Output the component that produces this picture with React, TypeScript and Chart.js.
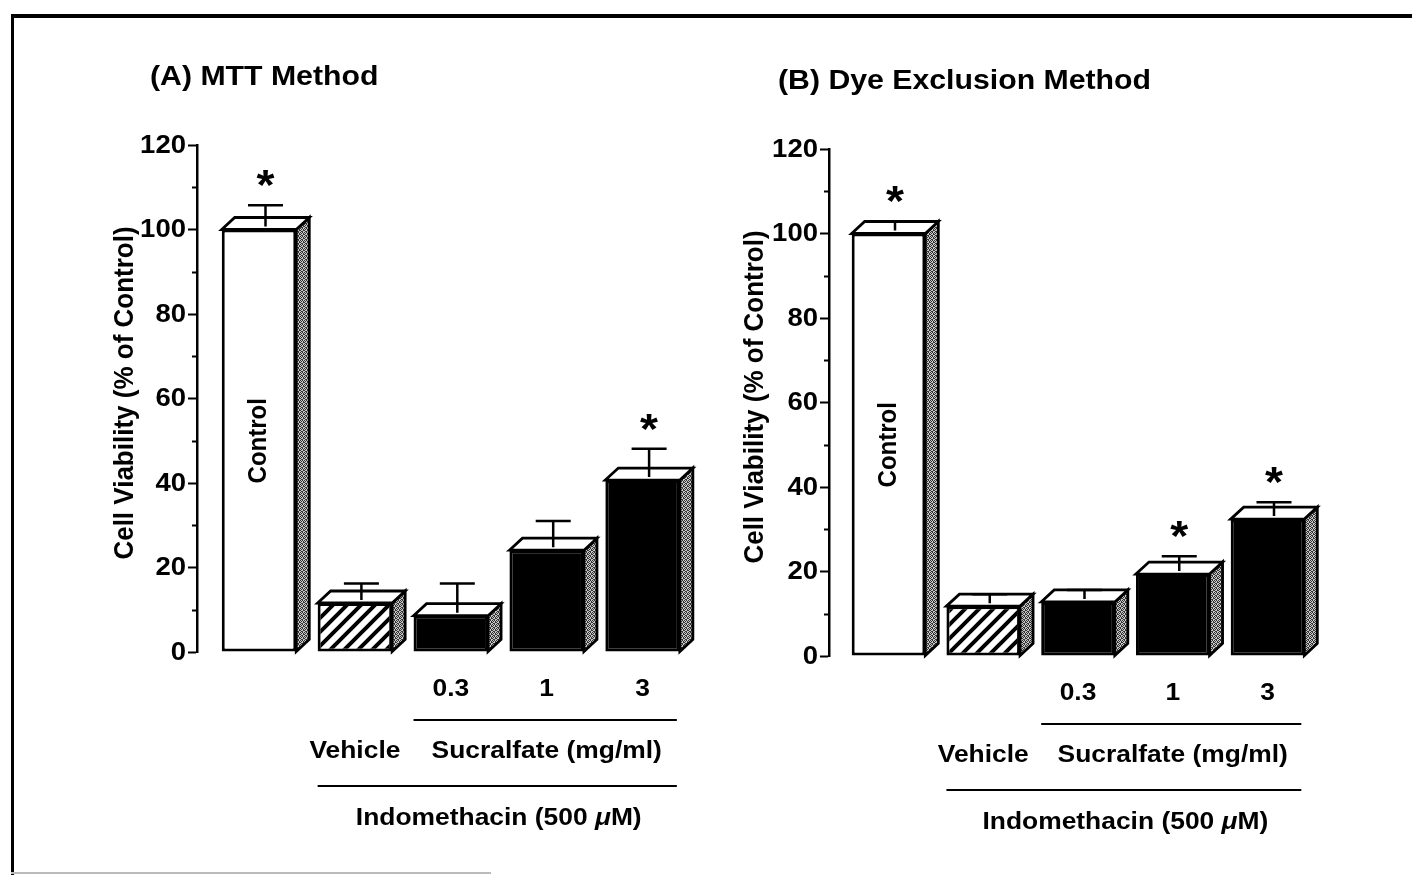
import React, { useEffect, useRef } from 'react';
import { Chart, registerables } from 'chart.js';

Chart.register(...registerables);

// ---------------- data ----------------
const categories = ['Control', 'Vehicle', 'Sucralfate 0.3', 'Sucralfate 1', 'Sucralfate 3'];
const doseLabels = ['', '', '0.3', '1', '3'];
const barStyles = ['open', 'hatched', 'solid', 'solid', 'solid'];

const mttValues = [100, 11.6, 8.6, 24.1, 40.7];
const mttErrors = [4.3, 3.2, 6.2, 5.5, 6.0];
const mttSignificant = [true, false, false, false, true];

const dyeValues = [100, 11.8, 12.8, 19.4, 32.4];
const dyeErrors = [1.5, 1.4, 1.4, 2.8, 2.6];
const dyeSignificant = [true, false, false, true, true];

const yMin = 0;
const yMax = 120;
const yMajorStep = 20;
const yMinorStep = 10;

const yAxisTitle = 'Cell Viability (% of Control)';
const controlLabel = 'Control';
const vehicleLabel = 'Vehicle';
const doseGroupLabel = 'Sucralfate (mg/ml)';
const treatmentLabelParts = [
  { text: 'Indomethacin (500 ', italic: false },
  { text: 'μ', italic: true },
  { text: 'M)', italic: false },
];

// ---------------- layout ----------------
type Panel = {
  title: string;
  values: number[];
  errors: number[];
  stars: boolean[];
  left: number;
  axisX: number;
  firstCenter: number;
  spacing: number;
  chartRight: number;
  top: number;
  bottom: number;
  titleX: number;
  titleY: number;
  yTitleX: number;
  yTitleY: number;
};

const CANVAS_W = 706;
const CANVAS_H = 875;
const DX = 13;
const DY = 12;
const BAR_FRACTION = 0.777;
const FONT = '"Liberation Sans", Arial, Helvetica, sans-serif';

const panelA: Panel = {
  title: '(A) MTT Method',
  values: mttValues,
  errors: mttErrors,
  stars: mttSignificant,
  left: 0,
  axisX: 197,
  firstCenter: 259,
  spacing: 95.9,
  chartRight: 700,
  top: 145,
  bottom: 652,
  titleX: 150,
  titleY: 78,
  yTitleX: 125,
  yTitleY: 393,
};

const panelB: Panel = {
  title: '(B) Dye Exclusion Method',
  values: dyeValues,
  errors: dyeErrors,
  stars: dyeSignificant,
  left: 706,
  axisX: 123,
  firstCenter: 182.5,
  spacing: 94.75,
  chartRight: 700,
  top: 149,
  bottom: 656,
  titleX: 72,
  titleY: 82,
  yTitleX: 49,
  yTitleY: 397,
};

function makeHatch(): CanvasPattern | string {
  const c = document.createElement('canvas');
  const s = 14;
  c.width = s;
  c.height = s;
  const g = c.getContext('2d');
  if (!g) return '#888';
  g.fillStyle = '#fff';
  g.fillRect(0, 0, s, s);
  g.strokeStyle = '#000';
  g.lineWidth = 4;
  g.beginPath();
  g.moveTo(-4, s + 4);
  g.lineTo(s + 4, -4);
  g.moveTo(-4, 4);
  g.lineTo(4, -4);
  g.moveTo(s - 4, s + 4);
  g.lineTo(s + 4, s - 4);
  g.stroke();
  return g.createPattern(c, 'repeat') || '#888';
}

function makeStipple(): CanvasPattern | string {
  const c = document.createElement('canvas');
  c.width = 4;
  c.height = 4;
  const g = c.getContext('2d');
  if (!g) return '#999';
  g.fillStyle = '#c8c8c8';
  g.fillRect(0, 0, 4, 4);
  g.fillStyle = '#333';
  [[0, 0], [2, 0], [1, 1], [3, 2], [0, 2], [2, 3], [1, 3], [3, 1]].forEach(([x, y]) => g.fillRect(x, y, 1, 1));
  return g.createPattern(c, 'repeat') || '#999';
}

function drawText(
  ctx: CanvasRenderingContext2D,
  text: string,
  x: number,
  y: number,
  size: number,
  align: CanvasTextAlign,
  sx: number,
  baseline: CanvasTextBaseline = 'middle',
) {
  ctx.save();
  ctx.translate(x, y);
  ctx.scale(sx, 1);
  ctx.font = `bold ${size}px ${FONT}`;
  ctx.textAlign = align;
  ctx.textBaseline = baseline;
  ctx.fillStyle = '#000';
  ctx.fillText(text, 0, 0);
  ctx.restore();
}

function drawRotated(ctx: CanvasRenderingContext2D, text: string, x: number, y: number, size: number, sy: number) {
  ctx.save();
  ctx.translate(x, y);
  ctx.rotate(-Math.PI / 2);
  ctx.scale(1, sy);
  ctx.font = `bold ${size}px ${FONT}`;
  ctx.textAlign = 'center';
  ctx.textBaseline = 'middle';
  ctx.fillStyle = '#000';
  ctx.fillText(text, 0, 0);
  ctx.restore();
}

function makePlugin(p: Panel, stipple: CanvasPattern | string) {
  return {
    id: 'bars3d',
    afterDatasetsDraw(chart: any) {
      const ctx: CanvasRenderingContext2D = chart.ctx;
      const ys = chart.scales.y;
      const meta = chart.getDatasetMeta(0);
      meta.data.forEach((bar: any, i: number) => {
        const { x, y, base, width } = bar.getProps(['x', 'y', 'base', 'width'], true);
        const l = x - width / 2;
        const r = x + width / 2;
        ctx.save();
        ctx.lineWidth = 2.8;
        ctx.strokeStyle = '#000';
        ctx.lineJoin = 'miter';
        // side face
        ctx.beginPath();
        ctx.moveTo(r, y);
        ctx.lineTo(r + DX, y - DY);
        ctx.lineTo(r + DX, base - DY);
        ctx.lineTo(r, base);
        ctx.closePath();
        ctx.fillStyle = stipple as any;
        ctx.fill();
        ctx.stroke();
        // top face
        ctx.beginPath();
        ctx.moveTo(l, y);
        ctx.lineTo(l + DX, y - DY);
        ctx.lineTo(r + DX, y - DY);
        ctx.lineTo(r, y);
        ctx.closePath();
        ctx.fillStyle = '#fff';
        ctx.fill();
        ctx.stroke();
        // error bar
        const ex = x + DX / 2;
        const ey0 = y - DY / 2 + 3;
        const ey1 = ys.getPixelForValue(p.values[i] + p.errors[i]) - DY / 2;
        ctx.lineWidth = 2.5;
        ctx.beginPath();
        ctx.moveTo(ex, ey0);
        ctx.lineTo(ex, ey1);
        ctx.moveTo(ex - 17.5, ey1);
        ctx.lineTo(ex + 17.5, ey1);
        ctx.stroke();
        ctx.restore();
        if (p.stars[i]) {
          drawText(ctx, '*', ex, ey1 - 30 + 0.57 * 42, 42, 'center', 1.1, 'alphabetic');
        }
      });
    },
    afterDraw(chart: any) {
      const ctx: CanvasRenderingContext2D = chart.ctx;
      const ys = chart.scales.y;
      const xs = chart.scales.x;
      const area = chart.chartArea;
      const meta = chart.getDatasetMeta(0);
      const bars = meta.data.map((b: any) => b.getProps(['x', 'width'], true));

      // minor ticks
      ctx.save();
      ctx.strokeStyle = '#000';
      ctx.lineWidth = 2;
      for (let v = yMin + yMinorStep; v < yMax; v += yMajorStep) {
        const py = Math.round(ys.getPixelForValue(v)) + 0.5;
        ctx.beginPath();
        ctx.moveTo(area.left - 5, py);
        ctx.lineTo(area.left, py);
        ctx.stroke();
      }
      ctx.restore();

      // y tick labels
      ys.ticks.forEach((t: any) => {
        drawText(ctx, String(t.value), area.left - 11, ys.getPixelForValue(t.value) + 1, 25, 'right', 1.1);
      });

      // titles
      drawText(ctx, p.title, p.titleX, p.titleY, 27, 'left', 1.12);
      drawRotated(ctx, yAxisTitle, p.yTitleX, p.yTitleY, 26, 1.08);
      drawRotated(ctx, controlLabel, bars[0].x, ys.getPixelForValue(50), 24, 1.08);

      // category labels below
      const base = area.bottom;
      doseLabels.forEach((lab, i) => {
        if (lab) drawText(ctx, lab, xs.getPixelForValue(i), base + 37, 24, 'center', 1.1);
      });
      ctx.save();
      ctx.strokeStyle = '#000';
      ctx.lineWidth = 2;
      ctx.beginPath();
      ctx.moveTo(bars[2].x - bars[2].width / 2, base + 68);
      ctx.lineTo(bars[4].x + bars[4].width / 2 - 3, base + 68);
      ctx.moveTo(bars[1].x - bars[1].width / 2, base + 134);
      ctx.lineTo(bars[4].x + bars[4].width / 2 - 3, base + 134);
      ctx.stroke();
      ctx.restore();

      drawText(ctx, vehicleLabel, xs.getPixelForValue(1), base + 99, 24, 'center', 1.1);
      drawText(ctx, doseGroupLabel, (xs.getPixelForValue(2) + xs.getPixelForValue(4)) / 2, base + 99, 24, 'center', 1.1);

      // treatment label with italic mu
      const sx = 1.1;
      const size = 24;
      const fontOf = (it: boolean) => `${it ? 'italic ' : ''}bold ${size}px ${FONT}`;
      ctx.save();
      let total = 0;
      const widths = treatmentLabelParts.map((part) => {
        ctx.font = fontOf(part.italic);
        const w = ctx.measureText(part.text).width;
        total += w;
        return w;
      });
      ctx.restore();
      const cx = (xs.getPixelForValue(1) + xs.getPixelForValue(4)) / 2;
      let px = cx - (total * sx) / 2;
      treatmentLabelParts.forEach((part, i) => {
        ctx.save();
        ctx.translate(px, base + 166);
        ctx.scale(sx, 1);
        ctx.font = fontOf(part.italic);
        ctx.textAlign = 'left';
        ctx.textBaseline = 'middle';
        ctx.fillStyle = '#000';
        ctx.fillText(part.text, 0, 0);
        ctx.restore();
        px += widths[i] * sx;
      });
    },
  };
}

function PanelChart({ p }: { p: Panel }) {
  const ref = useRef<HTMLCanvasElement>(null);
  useEffect(() => {
    const canvas = ref.current;
    if (!canvas) return;
    const hatch = makeHatch();
    const stipple = makeStipple();
    const fills = barStyles.map((s) => (s === 'open' ? '#fff' : s === 'hatched' ? hatch : '#000'));
    const xMin = -(p.firstCenter - p.axisX) / p.spacing;
    const xMax = xMin + (p.chartRight - p.axisX) / p.spacing;
    const chart = new Chart(canvas, {
      type: 'bar',
      data: {
        datasets: [
          {
            label: p.title,
            data: p.values.map((v, i) => ({ x: i, y: v })),
            backgroundColor: fills as any,
            borderColor: '#000',
            borderWidth: 3,
            borderSkipped: false,
            categoryPercentage: 1,
            barPercentage: BAR_FRACTION,
          } as any,
        ],
      },
      options: {
        responsive: false,
        animation: false,
        events: [],
        layout: {
          padding: {
            left: p.axisX - 12,
            right: CANVAS_W - p.chartRight,
            top: p.top,
            bottom: CANVAS_H - p.bottom,
          },
        },
        plugins: {
          legend: { display: false },
          tooltip: { enabled: false },
          title: { display: false },
        },
        scales: {
          x: {
            type: 'linear',
            display: false,
            offset: false,
            grid: { offset: false },
            min: xMin,
            max: xMax,
            afterBuildTicks: (axis: any) => {
              axis.ticks = categories.map((_, i) => ({ value: i }));
            },
          },
          y: {
            type: 'linear',
            min: yMin,
            max: yMax,
            ticks: { stepSize: yMajorStep, display: false },
            grid: {
              drawOnChartArea: false,
              drawTicks: true,
              tickLength: 9,
              tickWidth: 2,
              tickColor: '#000',
            },
            border: { display: true, color: '#000', width: 2.5 },
            afterFit: (axis: any) => {
              axis.width = 12;
            },
          },
        },
      } as any,
      plugins: [makePlugin(p, stipple) as any],
    });
    return () => chart.destroy();
  }, [p]);
  return (
    <canvas
      ref={ref}
      width={CANVAS_W}
      height={CANVAS_H}
      style={{ position: 'absolute', left: p.left, top: 0, width: CANVAS_W, height: CANVAS_H }}
    />
  );
}

export default function App() {
  return (
    <div
      style={{
        position: 'fixed',
        left: 0,
        top: 0,
        width: 1412,
        height: 875,
        background: '#fff',
        overflow: 'hidden',
      }}
    >
      <PanelChart p={panelA} />
      <PanelChart p={panelB} />
      <div style={{ position: 'absolute', left: 11, top: 14, width: 1401, height: 4, background: '#000' }} />
      <div style={{ position: 'absolute', left: 11, top: 14, width: 3, height: 861, background: '#000' }} />
      <div style={{ position: 'absolute', left: 11, top: 872, width: 480, height: 2, background: '#bbb' }} />
    </div>
  );
}
